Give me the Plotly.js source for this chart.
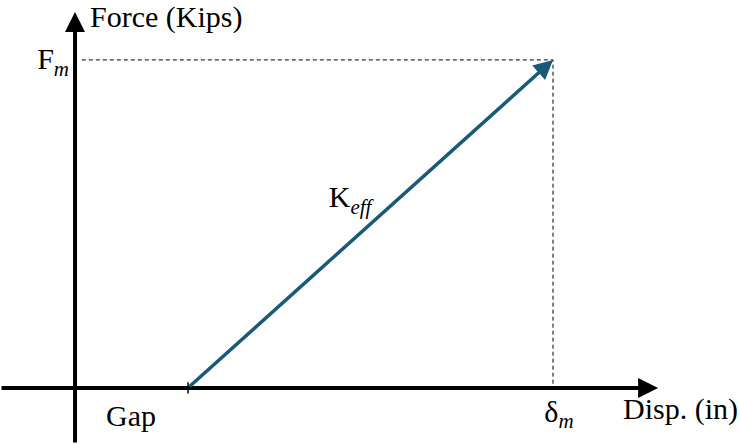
<!DOCTYPE html>
<html>
<head>
<meta charset="utf-8">
<script src="https://cdn.plot.ly/plotly-3.0.1.min.js"></script>
</head>
<body style="margin:0">
<div id="chart" style="width:740px;height:444px"></div>
<script>
// Schematic values (arbitrary units)
const gap = 1.0;          // gap displacement
const deltaM = 4.23;      // max displacement δm
const Fm = 1.0;           // max force Fm
const xAxisEnd = 5.16;    // x-axis arrow tip
const yAxisEnd = 1.146;   // y-axis arrow tip
const xAxisStart = -0.664;
const yAxisStart = -0.171;

const dashX = [0.06, deltaM, deltaM];
const dashY = [Fm, Fm, 0];

const labelTexts = ['Force (Kips)', 'F<sub><i>m</i></sub>', 'Gap', 'δ<sub><i>m</i></sub>', 'Disp. (in)', 'K<sub><i>eff</i></sub>'];
const labelX = [0.133, -0.053, 0.496, 4.283, 4.85, 2.434];
const labelY = [1.122, 0.994, -0.092, -0.08, -0.073, 0.573];
const labelPos = ['middle right', 'middle left', 'middle center', 'middle center', 'middle right', 'middle center'];

const blue = '#1b5a76';
const serif = 'serif';

const traces = [
  {x: dashX, y: dashY, mode: 'lines', type: 'scatter', hoverinfo: 'skip',
   line: {color: '#000', width: 1, dash: '4px,3px'}},
  {x: [gap, gap], y: [-0.017, 0.017], mode: 'lines', type: 'scatter', hoverinfo: 'skip',
   line: {color: '#000', width: 1.5}},
  {x: labelX, y: labelY, text: labelTexts, mode: 'text', type: 'scatter', hoverinfo: 'skip',
   textposition: labelPos, textfont: {family: serif, size: 30, color: '#000'}}
];

const layout = {
  width: 740, height: 444,
  margin: {l: 0, r: 0, t: 0, b: 0},
  showlegend: false,
  font: {family: serif, size: 30, color: '#000'},
  xaxis: {range: [xAxisStart, 740/113 + xAxisStart], visible: false},
  yaxis: {range: [yAxisStart, 444/328 + yAxisStart], visible: false},
  annotations: [
    {x: xAxisEnd, y: 0, ax: xAxisStart, ay: 0, xref: 'x', yref: 'y', axref: 'x', ayref: 'y',
     showarrow: true, arrowhead: 2, arrowsize: 1, arrowwidth: 4, arrowcolor: '#000', text: '', standoff: 0},
    {x: 0, y: yAxisEnd, ax: 0, ay: yAxisStart, xref: 'x', yref: 'y', axref: 'x', ayref: 'y',
     showarrow: true, arrowhead: 2, arrowsize: 1, arrowwidth: 4, arrowcolor: '#000', text: '', standoff: 0},
    {x: deltaM, y: Fm, ax: gap, ay: 0, xref: 'x', yref: 'y', axref: 'x', ayref: 'y',
     showarrow: true, arrowhead: 2, arrowsize: 1.1, arrowwidth: 3.5, arrowcolor: blue, text: '', standoff: 0}
  ]
};

Plotly.newPlot('chart', traces, layout, {displayModeBar: false});
</script>
</body>
</html>
